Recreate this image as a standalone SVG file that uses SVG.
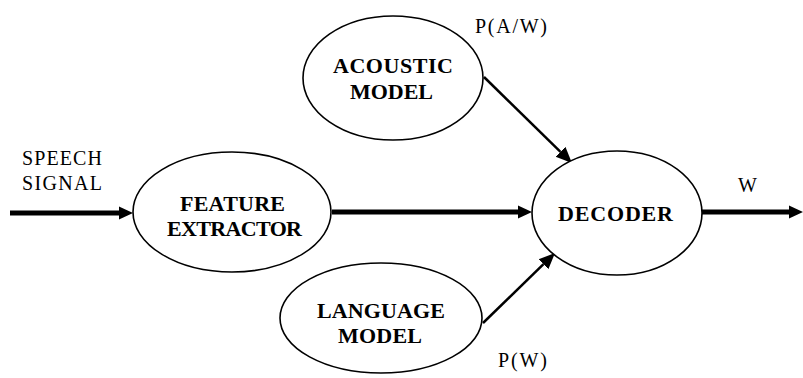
<svg xmlns="http://www.w3.org/2000/svg" width="803" height="378" viewBox="0 0 803 378">
<style>
.node ellipse{fill:#fff;stroke:#000;stroke-width:1.6}
.lbl{font-family:'Liberation Serif','DejaVu Serif',serif;font-weight:bold;font-size:22px;fill:#000}
.txt{font-family:'Liberation Serif','DejaVu Serif',serif;font-size:20px;fill:#000}
.thick{stroke:#000;stroke-width:5;fill:none}
.thin{stroke:#000;stroke-width:2.5;fill:none}
</style>
<defs>
<marker id="ah" markerUnits="userSpaceOnUse" markerWidth="14" markerHeight="14" refX="0" refY="6.5" orient="auto" viewBox="0 0 14 13">
<path d="M0,0 L14,6.5 L0,13 z" fill="#000"/>
</marker>
<marker id="ahd" markerUnits="userSpaceOnUse" markerWidth="16" markerHeight="16" refX="0" refY="7" orient="auto" viewBox="0 0 16 14">
<path d="M0,0 L16,7 L0,14 z" fill="#000"/>
</marker>
</defs>
<rect width="803" height="378" fill="#fff"/>
<g id="connectors">
<line class="thick" x1="10" y1="213" x2="119" y2="213" marker-end="url(#ah)"/>
<line class="thick" x1="332" y1="212" x2="518" y2="212" marker-end="url(#ah)"/>
<line class="thick" x1="702" y1="212" x2="789" y2="212" marker-end="url(#ah)"/>
<line class="thin" x1="484" y1="77" x2="560.5" y2="151.8" marker-end="url(#ahd)"/>
<line class="thin" x1="483" y1="323" x2="543.5" y2="264.2" marker-end="url(#ahd)"/>
</g>
<g id="feature-extractor" class="node">
<ellipse cx="232" cy="212" rx="99" ry="60"/>
<text class="lbl" x="180" y="211" textLength="105" lengthAdjust="spacing">FEATURE</text>
<text class="lbl" x="167" y="236" textLength="135" lengthAdjust="spacing">EXTRACTOR</text>
</g>
<g id="acoustic-model" class="node">
<ellipse cx="393" cy="78" rx="90" ry="62"/>
<text class="lbl" x="333" y="73" textLength="120" lengthAdjust="spacing">ACOUSTIC</text>
<text class="lbl" x="350" y="99" textLength="83" lengthAdjust="spacing">MODEL</text>
</g>
<g id="language-model" class="node">
<ellipse cx="381" cy="318" rx="101" ry="55"/>
<text class="lbl" x="317" y="318" textLength="128" lengthAdjust="spacing">LANGUAGE</text>
<text class="lbl" x="338" y="343" textLength="84" lengthAdjust="spacing">MODEL</text>
</g>
<g id="decoder" class="node">
<ellipse cx="617" cy="213" rx="85" ry="62"/>
<text class="lbl" x="558" y="221" textLength="115" lengthAdjust="spacing">DECODER</text>
</g>
<g id="labels">
<text class="txt" x="22" y="165" textLength="80" lengthAdjust="spacing">SPEECH</text>
<text class="txt" x="22" y="190" textLength="80" lengthAdjust="spacing">SIGNAL</text>
<text class="txt" x="475" y="33" textLength="72" lengthAdjust="spacing">P(A/W)</text>
<text class="txt" x="498" y="367" textLength="49" lengthAdjust="spacing">P(W)</text>
<text class="txt" x="738" y="192" textLength="20" lengthAdjust="spacing">W</text>
</g>
</svg>
